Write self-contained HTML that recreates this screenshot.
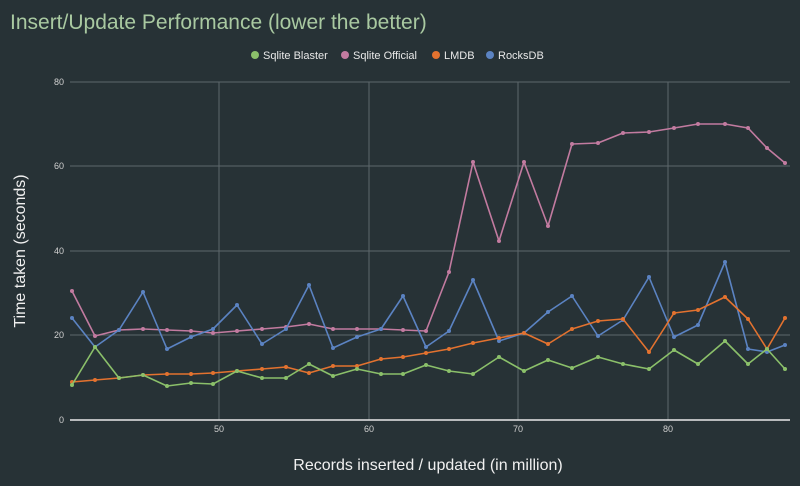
<!DOCTYPE html><html><head><style>body{margin:0;background:#273236;}svg{display:block}</style></head><body>
<svg width="800" height="486" xmlns="http://www.w3.org/2000/svg" font-family="Liberation Sans, sans-serif">
<defs>
<marker id="mp" viewBox="0 0 4 4" refX="2" refY="2" markerWidth="4" markerHeight="4" markerUnits="userSpaceOnUse"><circle cx="2" cy="2" r="2" fill="#c27ba0"/></marker>
<marker id="mb" viewBox="0 0 4 4" refX="2" refY="2" markerWidth="4" markerHeight="4" markerUnits="userSpaceOnUse"><circle cx="2" cy="2" r="2" fill="#5b83c2"/></marker>
<marker id="mo" viewBox="0 0 4 4" refX="2" refY="2" markerWidth="4" markerHeight="4" markerUnits="userSpaceOnUse"><circle cx="2" cy="2" r="2" fill="#e3722f"/></marker>
<marker id="mg" viewBox="0 0 4 4" refX="2" refY="2" markerWidth="4" markerHeight="4" markerUnits="userSpaceOnUse"><circle cx="2" cy="2" r="2" fill="#8bc06a"/></marker>
</defs>
<rect width="800" height="486" fill="#273236"/>
<text x="10" y="29" font-size="21" fill="#a9c9a1">Insert/Update Performance (lower the better)</text>
<g font-size="11" fill="#e8e8e8">
<circle cx="255" cy="55" r="4" fill="#8bc06a"/><text x="263" y="59">Sqlite Blaster</text>
<circle cx="345" cy="55" r="4" fill="#c27ba0"/><text x="353" y="59">Sqlite Official</text>
<circle cx="436" cy="55" r="4" fill="#e3722f"/><text x="444" y="59">LMDB</text>
<circle cx="490" cy="55" r="4" fill="#5b83c2"/><text x="498" y="59">RocksDB</text>
</g>
<g stroke="#5d686c" stroke-width="1">
<line x1="70" y1="82" x2="790" y2="82"/><line x1="70" y1="166" x2="790" y2="166"/><line x1="70" y1="251" x2="790" y2="251"/><line x1="70" y1="335" x2="790" y2="335"/>
<line x1="219" y1="82" x2="219" y2="420"/><line x1="369" y1="82" x2="369" y2="420"/><line x1="518" y1="82" x2="518" y2="420"/><line x1="668" y1="82" x2="668" y2="420"/>
</g>
<line x1="70" y1="420" x2="790" y2="420" stroke="#e8e8e8" stroke-width="1.5"/>
<g font-size="9" fill="#d0d0d0" text-anchor="end">
<text x="64" y="85">80</text><text x="64" y="169">60</text><text x="64" y="254">40</text><text x="64" y="338">20</text><text x="64" y="423">0</text>
</g>
<g font-size="9" fill="#d0d0d0" text-anchor="middle">
<text x="219" y="432">50</text><text x="369" y="432">60</text><text x="518" y="432">70</text><text x="668" y="432">80</text>
</g>
<text x="428" y="470" font-size="16" fill="#f0f0f0" text-anchor="middle">Records inserted / updated (in million)</text>
<text transform="translate(25,251) rotate(-90)" font-size="16" fill="#f0f0f0" text-anchor="middle">Time taken (seconds)</text>
<g fill="none" stroke-width="1.6" stroke-linejoin="round">
<polyline stroke="#c27ba0" marker-start="url(#mp)" marker-mid="url(#mp)" marker-end="url(#mp)" points="72,291 95,336 119,330 143,329 167,330 191,331 213,333 237,331 262,329 286,327 309,324 333,329 357,329 381,329 403,330 426,331 449,272 473,162 499,241 524,162 548,226 572,144 598,143 623,133 649,132 674,128 698,124 725,124 748,128 767,148 785,163"/>
<polyline stroke="#5b83c2" marker-start="url(#mb)" marker-mid="url(#mb)" marker-end="url(#mb)" points="72,318 95,347 119,330 143,292 167,349 191,337 213,329 237,305 262,344 286,329 309,285 333,348 357,337 381,329 403,296 426,347 449,331 473,280 499,341 524,333 548,312 572,296 598,336 623,320 649,277 674,337 698,325 725,262 748,349 767,352 785,345"/>
<polyline stroke="#e3722f" marker-start="url(#mo)" marker-mid="url(#mo)" marker-end="url(#mo)" points="72,382 95,380 119,378 143,375 167,374 191,374 213,373 237,371 262,369 286,367 309,373 333,366 357,366 381,359 403,357 426,353 449,349 473,343 499,338 524,333 548,344 572,329 598,321 623,319 649,352 674,313 698,310 725,297 748,319 767,349 785,318"/>
<polyline stroke="#8bc06a" marker-start="url(#mg)" marker-mid="url(#mg)" marker-end="url(#mg)" points="72,385 95,347 119,378 143,375 167,386 191,383 213,384 237,371 262,378 286,378 309,364 333,376 357,369 381,374 403,374 426,365 449,371 473,374 499,357 524,371 548,360 572,368 598,357 623,364 649,369 674,350 698,364 725,341 748,364 767,349 785,369"/>
</g>
</svg>
</body></html>
